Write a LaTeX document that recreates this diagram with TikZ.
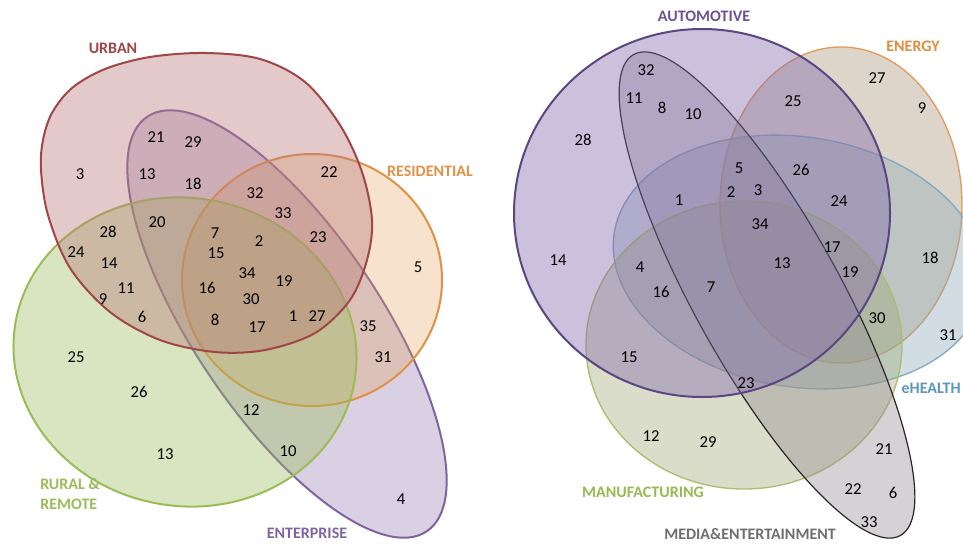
\documentclass[tikz,border=0pt]{standalone}
\usepackage{fontspec}
\setmainfont{Carlito}
\definecolor{urbS}{RGB}{160,70,70}
\definecolor{urbF}{RGB}{185,120,120}
\definecolor{resS}{RGB}{225,145,70}
\definecolor{resF}{RGB}{230,160,90}
\definecolor{rurS}{RGB}{155,187,89}
\definecolor{rurF}{RGB}{155,187,89}
\definecolor{entS}{RGB}{128,100,162}
\definecolor{entF}{RGB}{128,100,162}
\definecolor{autS}{RGB}{90,70,130}
\definecolor{autF}{RGB}{128,100,170}
\definecolor{autT}{RGB}{110,80,150}
\definecolor{eneS}{RGB}{225,155,90}
\definecolor{eneF}{RGB}{170,150,120}
\definecolor{eneT}{RGB}{225,140,60}
\definecolor{ehS}{RGB}{130,170,195}
\definecolor{ehF}{RGB}{140,170,185}
\definecolor{ehT}{RGB}{90,150,190}
\definecolor{manS}{RGB}{170,190,110}
\definecolor{manF}{RGB}{160,170,120}
\definecolor{manT}{RGB}{150,185,80}
\definecolor{medS}{RGB}{40,40,40}
\definecolor{medF}{RGB}{150,140,150}
\definecolor{medT}{RGB}{110,110,110}
\begin{document}
\begin{tikzpicture}[x=0.75pt,y=-0.75pt,
  num/.style={font=\fontsize{12.5}{14}\selectfont, inner sep=0pt},
  lbl/.style={font=\fontsize{12}{14.5}\selectfont\bfseries, inner sep=0pt},
  setline/.style={line width=1.5pt}]
\useasboundingbox (0,0) rectangle (963,543);
% ---------- left diagram ----------
\draw[setline, draw=entS, fill=entF, fill opacity=0.3, rotate around={-56:(287,324)}]
  (287,324) ellipse [x radius=250, y radius=93];
\draw[setline, draw=resS, fill=resF, fill opacity=0.3]
  (312,280) ellipse [x radius=130, y radius=126];
\draw[setline, draw=rurS, fill=rurF, fill opacity=0.38, rotate around={-10:(185,352)}]
  (185,352) ellipse [x radius=172, y radius=154];
\draw[setline, draw=urbS, fill=urbF, fill opacity=0.4]
  plot[smooth cycle, tension=0.55] coordinates {(41,170) (48,215) (70,268) (110,312) (160,340) (215,352) (265,350) (315,333) (350,300) (367,260) (372,220) (362,172) (340,125) (305,82) (260,59) (205,53) (150,57) (105,69) (72,88) (52,113) (43,140)};
\node[lbl, text=urbS] (urban) at (113,48) {URBAN};
\node[lbl, text=resS] (residential) at (430,171) {RESIDENTIAL};
\node[lbl, text=rurS, anchor=west, align=left] (rural) at (40,494) {RURAL \&\\REMOTE};
\node[lbl, text=entS] (enterprise) at (307,533) {ENTERPRISE};
\node[num] (a3) at (80,174) {3};
\node[num] (a21) at (156,137) {21};
\node[num] (a29) at (193,142) {29};
\node[num] (a13) at (147,174) {13};
\node[num] (a18) at (193,184) {18};
\node[num] (a22) at (329,172) {22};
\node[num] (a32) at (255,193) {32};
\node[num] (a33) at (283,213) {33};
\node[num] (a20) at (157,222) {20};
\node[num] (a28) at (108,232) {28};
\node[num] (a24) at (76,252) {24};
\node[num] (a14) at (109,263) {14};
\node[num] (a11) at (126,288) {11};
\node[num] (a9) at (103,299) {9};
\node[num] (a6) at (142,317) {6};
\node[num] (a7) at (215,233) {7};
\node[num] (a15) at (216,253) {15};
\node[num] (a2) at (259,241) {2};
\node[num] (a23) at (318,237) {23};
\node[num] (a34) at (247,273) {34};
\node[num] (a19) at (284,281) {19};
\node[num] (a16) at (207,288) {16};
\node[num] (a30) at (251,299) {30};
\node[num] (a8) at (215,320) {8};
\node[num] (a17) at (257,327) {17};
\node[num] (a1) at (293,316) {1};
\node[num] (a27) at (317,316) {27};
\node[num] (a35) at (368,326) {35};
\node[num] (a31) at (383,357) {31};
\node[num] (a5) at (418,267) {5};
\node[num] (a25) at (76,357) {25};
\node[num] (a26) at (139,392) {26};
\node[num] (a12) at (251,410) {12};
\node[num] (a13b) at (165,454) {13};
\node[num] (a10) at (288,451) {10};
\node[num] (a4) at (401,499) {4};
% ---------- right diagram ----------
\draw[line width=1pt, draw=eneS, fill=eneF, fill opacity=0.4]
  (841,205) ellipse [x radius=121, y radius=158];
\draw[line width=1pt, draw=ehS, fill=ehF, fill opacity=0.4, rotate around={-9:(799,262)}]
  (799,262) ellipse [x radius=187, y radius=125];
\draw[line width=1pt, draw=manS, fill=manF, fill opacity=0.4]
  (744,345) ellipse [x radius=158, y radius=144];
\draw[line width=0.9pt, draw=medS, fill=medF, fill opacity=0.4, rotate around={-61:(767,295)}]
  (767,295) ellipse [x radius=275, y radius=73];
\draw[line width=1.5pt, draw=autS, fill=autF, fill opacity=0.4]
  (702,213) ellipse [x radius=188, y radius=184];
\node[lbl, text=autT] (automotive) at (704,16) {AUTOMOTIVE};
\node[lbl, text=eneT] (energy) at (913,46) {ENERGY};
\node[lbl, text=ehT, anchor=east] (ehealth) at (961,388) {eHEALTH};
\node[lbl, text=manT] (manufacturing) at (643,492) {MANUFACTURING};
\node[lbl, text=medT] (media) at (750,534) {MEDIA\&ENTERTAINMENT};
\node[num] (b32) at (646,70) {32};
\node[num] (b11) at (634,98) {11};
\node[num] (b8) at (662,108) {8};
\node[num] (b10) at (693,114) {10};
\node[num] (b25) at (793,101) {25};
\node[num] (b27) at (877,78) {27};
\node[num] (b9) at (922,108) {9};
\node[num] (b28) at (583,140) {28};
\node[num] (b1) at (679,200) {1};
\node[num] (b2) at (731,192) {2};
\node[num] (b5) at (739,168) {5};
\node[num] (b3) at (758,190) {3};
\node[num] (b26) at (801,170) {26};
\node[num] (b24) at (839,201) {24};
\node[num] (b34) at (760,224) {34};
\node[num] (b17) at (832,247) {17};
\node[num] (b13) at (782,263) {13};
\node[num] (b19) at (850,272) {19};
\node[num] (b18) at (930,258) {18};
\node[num] (b7) at (711,287) {7};
\node[num] (b30) at (877,318) {30};
\node[num] (b31) at (948,335) {31};
\node[num] (b23) at (746,383) {23};
\node[num] (b14) at (558,260) {14};
\node[num] (b4) at (640,267) {4};
\node[num] (b16) at (661,292) {16};
\node[num] (b15) at (629,357) {15};
\node[num] (b12) at (651,436) {12};
\node[num] (b29) at (708,442) {29};
\node[num] (b21) at (884,449) {21};
\node[num] (b22) at (853,489) {22};
\node[num] (b6) at (893,493) {6};
\node[num] (b33) at (869,522) {33};
\end{tikzpicture}
\end{document}
